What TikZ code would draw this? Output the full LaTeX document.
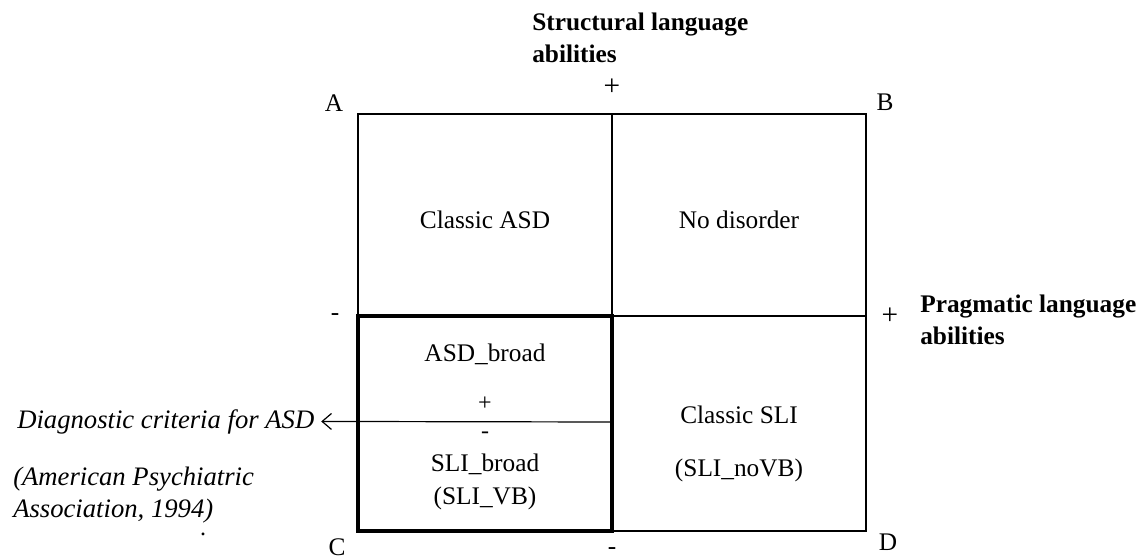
\documentclass[tikz,border=0pt]{standalone}
\usepackage{fontspec}
\setmainfont{Liberation Serif}
\usetikzlibrary{positioning,arrows.meta}

\begin{document}
\begin{tikzpicture}[
    x=0.75pt, y=-0.75pt,
    grid/.style={draw, line width=0.9pt},
    thickbox/.style={draw, line width=3.2pt, line join=miter},
    lbl/.style={font=\fontsize{19}{23}\selectfont, inner sep=0pt, align=center},
    axis/.style={font=\fontsize{19}{24}\selectfont\bfseries, inner sep=0pt, align=left, anchor=base west},
    note/.style={font=\fontsize{20}{24}\selectfont\itshape, inner sep=0pt, align=left, anchor=base west},
    sign/.style={font=\fontsize{22}{24}\selectfont, inner sep=0pt},
    small/.style={font=\fontsize{18}{18}\selectfont, inner sep=0pt},
    arr/.style={-{Straight Barb[length=7pt,width=12pt]}, line width=0.9pt},
]
\useasboundingbox (0,0) rectangle (1144,559);

% Corners and midpoints of the grid
\coordinate (A) at (358,114);
\coordinate (B) at (866,114);
\coordinate (C) at (358,531);
\coordinate (D) at (866,531);
\coordinate (top) at (612,114);
\coordinate (bot) at (612,531);
\coordinate (lft) at (358,316);
\coordinate (rgt) at (866,316);
\coordinate (crit) at (612,422);

% Quadrants
\draw[grid] (A) rectangle (D);
\draw[grid] (top) -- (bot);
\draw[grid] (lft) -- (rgt);
\draw[thickbox] (lft) rectangle (bot);

% Corner letters
\node[lbl] (la) at (334,103) {A};
\node[lbl] (lb) at (885,102) {B};
\node[lbl] (lc) at (337,547) {C};
\node[lbl] (ld) at (888,542) {D};

% Axes
\node[axis] (struct) at (532,63) {Structural language\\abilities};
\node[axis] (prag) at (920,344) {Pragmatic language\\abilities};
\node[sign] (splus) at (612,87) {+};
\node[sign] (pplus) at (890,316) {+};
\node[lbl] (sminus) at (335,317) {-};
\node[lbl] (pminus) at (612,551) {-};

% Cells
\node[lbl] (casd) at (485,220) {Classic ASD};
\node[lbl] (nodis) at (739,220) {No disorder};
\node[lbl] (asdb) at (485,354) {ASD\_broad};
\node[small] (bplus) at (485,404) {+};
\node[small] (bminus) at (485,435) {-};
\node[lbl, align=center] (slib) at (485,482) {SLI\_broad\\[2pt](SLI\_VB)};
\node[lbl] (csli) at (739,415) {Classic SLI};
\node[lbl] (novb) at (739,470) {(SLI\_noVB)};

% Diagnostic criteria
\node[note] (diag) at (17,428) {Diagnostic criteria for ASD};
\node[note] (apa) at (13,517) {(American Psychiatric\\Association, 1994)};
\node[small] (dot) at (203,534) {.};
\draw[arr] (crit) -- ([xshift=5pt]diag.east);
\end{tikzpicture}
\end{document}
